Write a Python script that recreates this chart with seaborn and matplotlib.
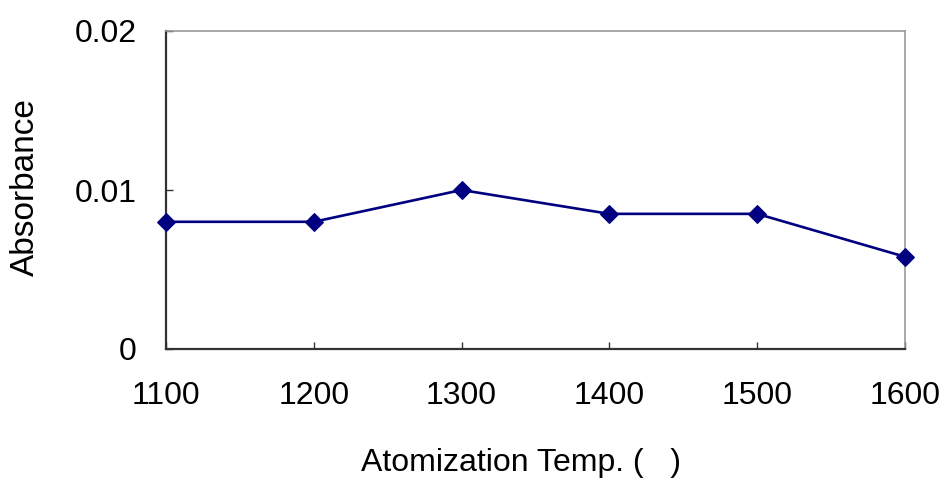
import matplotlib
matplotlib.use("Agg")
import matplotlib.pyplot as plt
import seaborn as sns
import pandas as pd

# Atomization temperature study
temps = [1100, 1200, 1300, 1400, 1500, 1600]
absorbance = [0.0080, 0.0080, 0.0100, 0.0085, 0.0085, 0.0058]
x_ticks = [1100, 1200, 1300, 1400, 1500, 1600]
y_ticks = [0.0, 0.01, 0.02]
y_tick_labels = ["0", "0.01", "0.02"]

sns.set_theme(style="white")
plt.rcParams["font.family"] = ["Liberation Sans", "DejaVu Sans"]

df = pd.DataFrame({"temp": temps, "abs": absorbance})

fig = plt.figure(figsize=(9.44, 4.8), dpi=100)
ax = fig.add_axes([166 / 944, 1 - 349 / 480, (905 - 166) / 944, (349 - 31) / 480])

sns.lineplot(data=df, x="temp", y="abs", ax=ax, color="#000080",
             marker="D", markersize=9, markeredgecolor="#000080",
             linewidth=1.9, clip_on=False, zorder=5)

ax.set_xlim(1100, 1600)
ax.set_ylim(0, 0.02)
ax.set_xticks(x_ticks)
ax.set_xticklabels([str(t) for t in x_ticks])
ax.set_yticks(y_ticks)
ax.set_yticklabels(y_tick_labels)

ax.tick_params(axis="both", direction="in", length=5, width=1, color="#333333",
               labelsize=23, labelcolor="black", bottom=True, left=True)
ax.tick_params(axis="x", pad=23)
ax.tick_params(axis="y", pad=21)

for side in ["left", "bottom"]:
    ax.spines[side].set_color("#333333")
    ax.spines[side].set_linewidth(1.6)
for side in ["top", "right"]:
    ax.spines[side].set_color("#999999")
    ax.spines[side].set_linewidth(1.2)

ax.set_xlabel("Atomization Temp. (   )", fontsize=23, color="black", labelpad=27)
ax.set_ylabel("Absorbance", fontsize=24, color="black", labelpad=24)
ax.xaxis.label.set_x(0.481)
ax.yaxis.label.set_y(0.508)

fig.savefig("out.png", dpi=100, facecolor="white")
